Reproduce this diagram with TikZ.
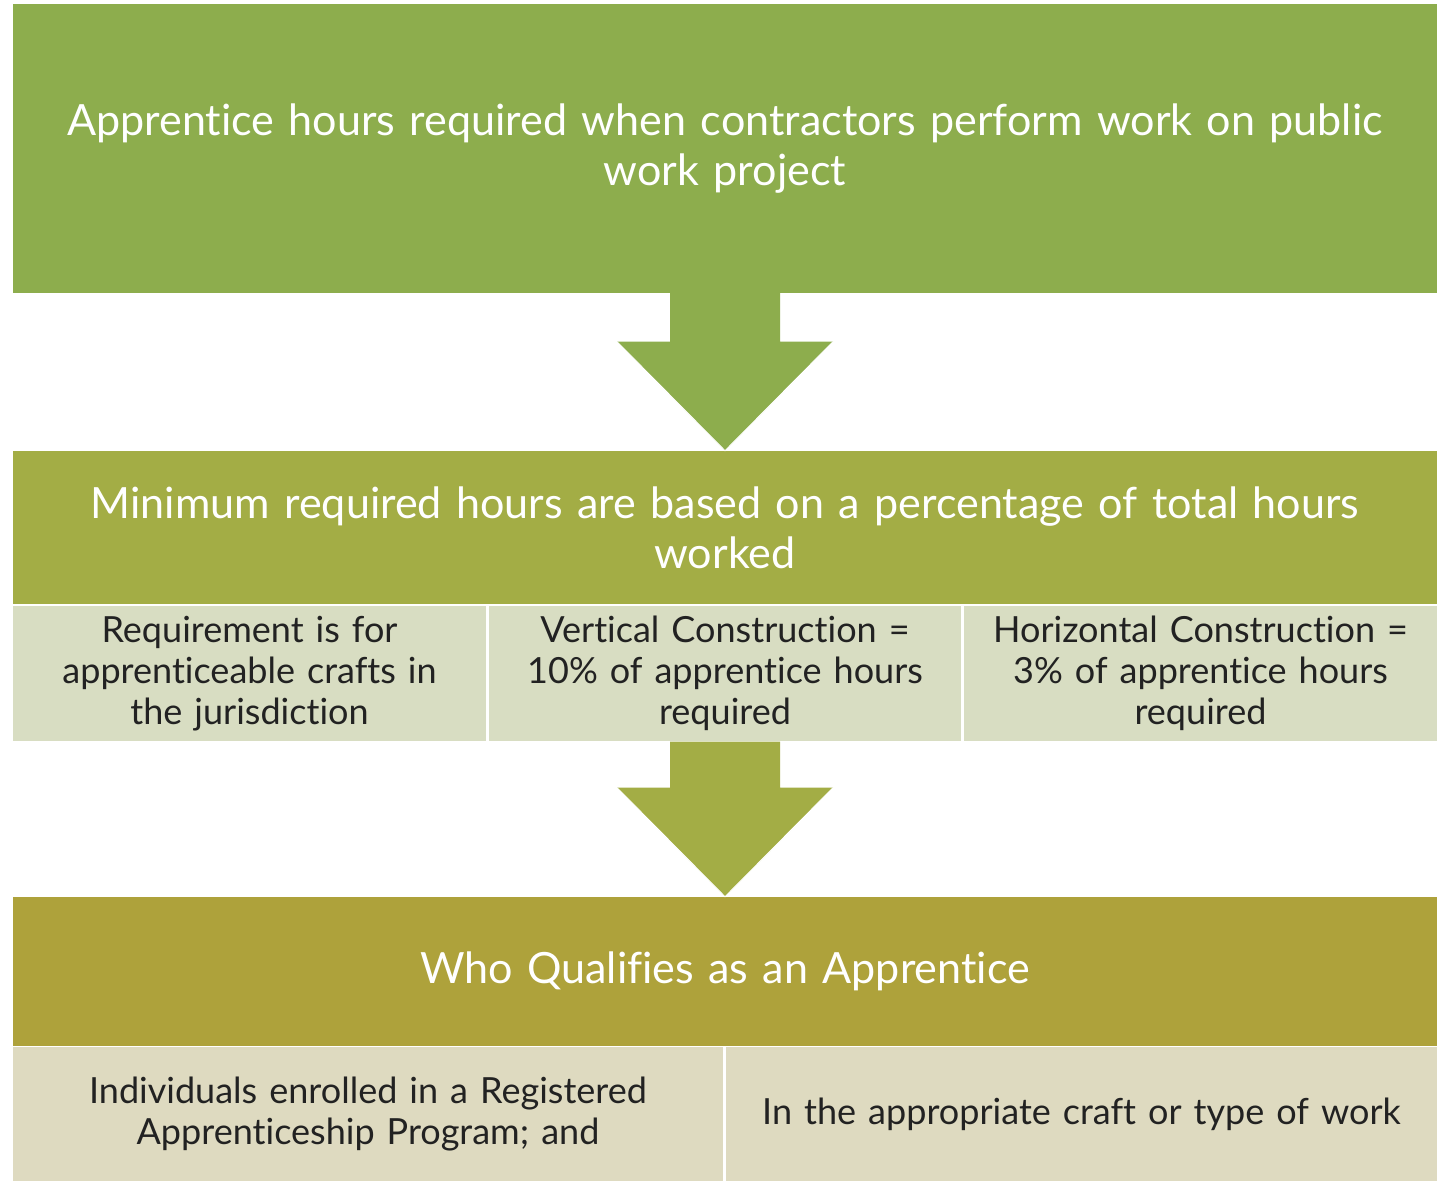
\documentclass[tikz,border=0pt]{standalone}
\usepackage{fontspec}
\setmainfont{Lato}[Ligatures=CommonOff]
\usetikzlibrary{positioning,calc}

\definecolor{topgreen}{HTML}{8DAD4D}
\definecolor{midgreen}{HTML}{A3AD45}
\definecolor{lowolive}{HTML}{AEA23B}
\definecolor{midpale}{HTML}{D8DDC2}
\definecolor{lowpale}{HTML}{DEDAC0}
\definecolor{boxtext}{HTML}{222222}

\newcommand{\flowarrow}[3]{%
  \fill[#3] ($(#1.south)+(-1.1,0.02)$) -- ($(#2.north)+(-1.1,2.18)$) -- ($(#2.north)+(-2.16,2.18)$)
    -- (#2.north) -- ($(#2.north)+(2.16,2.18)$) -- ($(#2.north)+(1.1,2.18)$) -- ($(#1.south)+(1.1,0.02)$) -- cycle;
  \draw[white, line width=0.5pt] ($(#2.north)+(-2.16,2.18)$) -- (#2.north) -- ($(#2.north)+(2.16,2.18)$);
}

\begin{document}
\begin{tikzpicture}[
    headbox/.style={rectangle, inner sep=0pt, minimum width=28.48cm, text width=27.8cm, align=center, text=white},
    subbox/.style={rectangle, draw=white, line width=0.6pt, inner sep=0pt, minimum height=2.74cm, text=boxtext, align=center},
    headfont/.style={font=\fontsize{24.5}{28.3}\selectfont},
    subfont/.style={font=\fontsize{20.5}{23.2}\selectfont}
  ]
        \useasboundingbox[fill=white] (0,0) rectangle (28.96,-23.62);

        % Top
        \node[headbox, headfont, fill=topgreen, minimum height=5.78cm] (hours) at (14.5,-2.97)
            {Apprentice hours required when contractors perform work on public\\work project};

        % Middle
        \node[headbox, headfont, fill=midgreen, minimum height=3.08cm] (minimum) at (14.5,-10.56)
            {Minimum required hours are based on a percentage of total hours\\worked};
        \node[subbox, subfont, fill=midpale, minimum width=9.5cm, text width=9.3cm] (crafts) at (4.99,-13.47)
            {Requirement is for\\apprenticeable crafts in\\the jurisdiction};
        \node[subbox, subfont, fill=midpale, minimum width=9.48cm, text width=9.3cm] (vertical) at (14.5,-13.47)
            {Vertical Construction =\\10\% of apprentice hours\\required};
        \node[subbox, subfont, fill=midpale, minimum width=9.5cm, text width=9.3cm] (horizontal) at (24.01,-13.47)
            {Horizontal Construction =\\3\% of apprentice hours\\required};

        % Bottom
        \node[headbox, headfont, fill=lowolive, minimum height=2.98cm] (qualifies) at (14.5,-19.43)
            {Who Qualifies as an Apprentice};
        \node[subbox, subfont, fill=lowpale, minimum width=14.24cm, minimum height=2.7cm, text width=13.8cm] (enrolled) at (7.36,-22.28)
            {Individuals enrolled in a Registered\\Apprenticeship Program; and};
        \node[subbox, subfont, fill=lowpale, minimum width=14.26cm, minimum height=2.7cm, text width=13.8cm] (craft) at (21.63,-22.28)
            {In the appropriate craft or type of work};

        % Arrows
        \flowarrow{hours}{minimum}{topgreen}
        \flowarrow{vertical}{qualifies}{midgreen}
\end{tikzpicture}
\end{document}
